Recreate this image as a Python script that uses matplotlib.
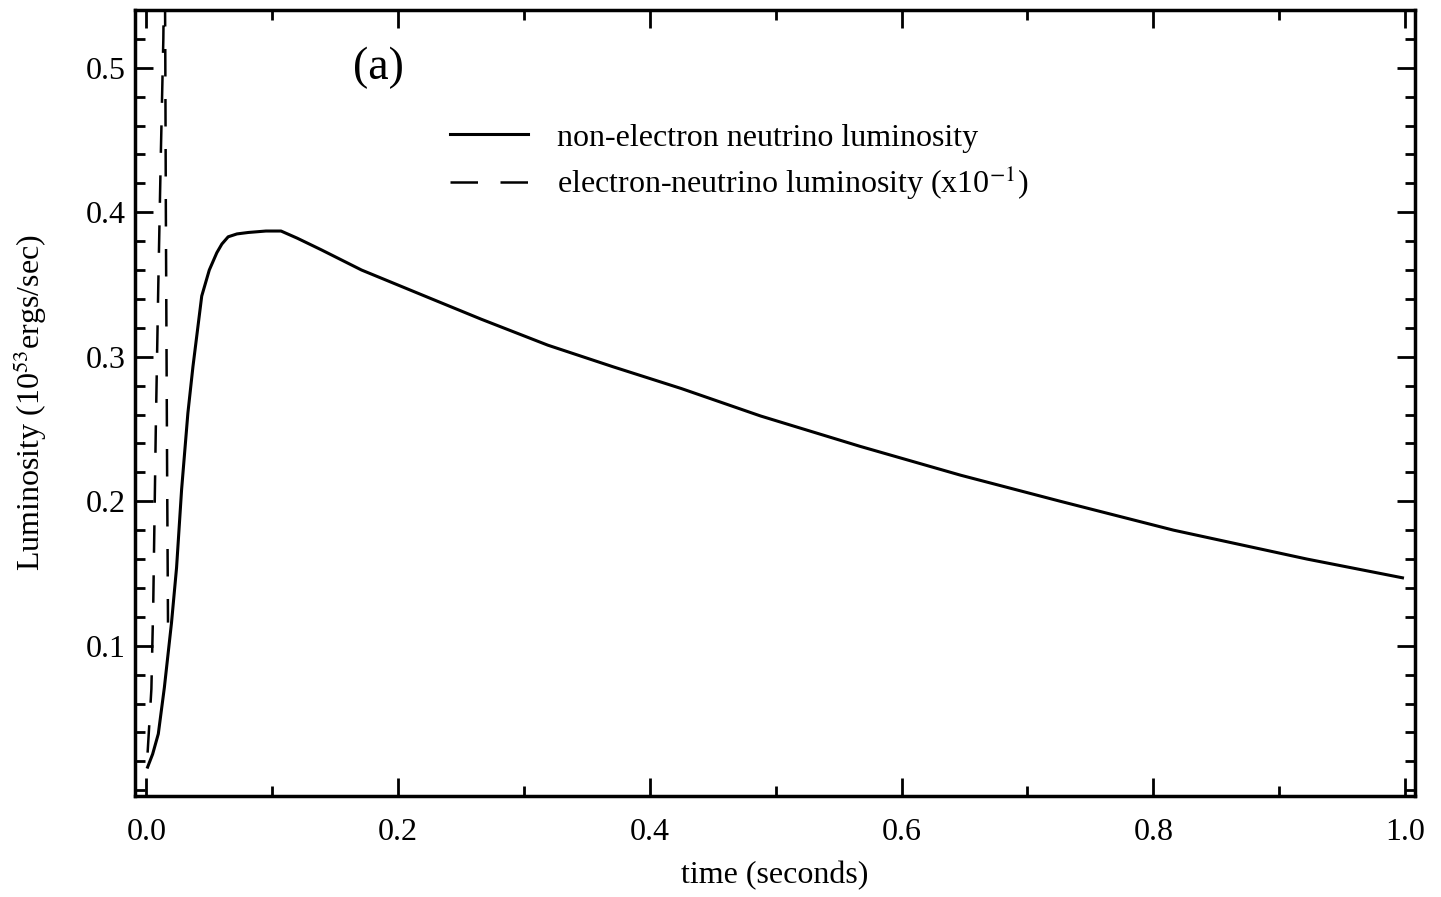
import matplotlib
matplotlib.use("Agg")
import matplotlib.pyplot as plt
from matplotlib.ticker import MultipleLocator

plt.rcParams['font.family'] = ['Liberation Serif', 'DejaVu Serif']
plt.rcParams['mathtext.fontset'] = 'stix'

# non-electron neutrino luminosity (10^53 ergs/sec)
t_nonel = [0.001, 0.005, 0.0095, 0.0143, 0.020, 0.024, 0.028, 0.033, 0.037, 0.044,
           0.050, 0.056, 0.060, 0.065, 0.072, 0.081, 0.095, 0.107, 0.120, 0.139,
           0.171, 0.224, 0.266, 0.319, 0.371, 0.425, 0.488, 0.567, 0.647, 0.726,
           0.816, 0.922, 0.998]
L_nonel = [0.016, 0.025, 0.039, 0.071, 0.116, 0.154, 0.208, 0.261, 0.293, 0.342,
           0.360, 0.372, 0.378, 0.383, 0.385, 0.386, 0.387, 0.387, 0.382, 0.374,
           0.360, 0.341, 0.326, 0.308, 0.293, 0.278, 0.259, 0.238, 0.218, 0.200,
           0.180, 0.160, 0.147]

# electron-neutrino luminosity (x10^-1)
t_el = [0.001, 0.004, 0.0055, 0.0075, 0.0095, 0.0115, 0.0135, 0.0145,
        0.0150, 0.0155, 0.0165, 0.0172]
L_el = [0.026, 0.07, 0.13, 0.25, 0.35, 0.44, 0.52, 0.60,
        0.52, 0.40, 0.22, 0.116]

fig = plt.figure(figsize=(14.41, 8.97), dpi=100)
ax = fig.add_axes([0.0937, 0.1126, 0.8883, 0.8763])

ax.plot(t_nonel, L_nonel, color='black', lw=2.2, label='non-electron neutrino luminosity')
ax.plot(t_el, L_el, color='black', lw=1.8, linestyle=(0, (11, 9)),
        label='electron-neutrino luminosity (x10$^{-1}$)')

ax.set_xlim(-0.009, 1.008)
ax.set_ylim(-0.004, 0.54)

ax.xaxis.set_minor_locator(MultipleLocator(0.1))
ax.yaxis.set_minor_locator(MultipleLocator(0.02))
ax.set_xticks([0.0, 0.2, 0.4, 0.6, 0.8, 1.0])
ax.set_xticklabels(['0.0', '0.2', '0.4', '0.6', '0.8', '1.0'])
ax.set_yticks([0.1, 0.2, 0.3, 0.4, 0.5])
ax.set_yticklabels(['0.1', '0.2', '0.3', '0.4', '0.5'])

ax.tick_params(which='both', direction='in', top=True, right=True, width=2, labelsize=23)
ax.tick_params(which='major', length=13)
ax.tick_params(which='minor', length=7)
ax.tick_params(axis='x', which='major', pad=16)
ax.tick_params(axis='y', which='major', pad=7)
for s in ax.spines.values():
    s.set_linewidth(2.5)

ax.set_xlabel('time (seconds)', fontsize=23, labelpad=10)
ax.set_ylabel('Luminosity (10$^{53}$ergs/sec)', fontsize=23, labelpad=26)

ax.text(0.19, 0.926, '(a)', transform=ax.transAxes, fontsize=33,
        ha='center', va='center')

ax.legend(loc='upper left', bbox_to_anchor=(0.246, 0.856), frameon=False,
          fontsize=23, handlelength=2.45, handletextpad=0.9, labelspacing=0.35,
          borderpad=0, borderaxespad=0)

plt.savefig('out.png', dpi=100)
plt.close()
